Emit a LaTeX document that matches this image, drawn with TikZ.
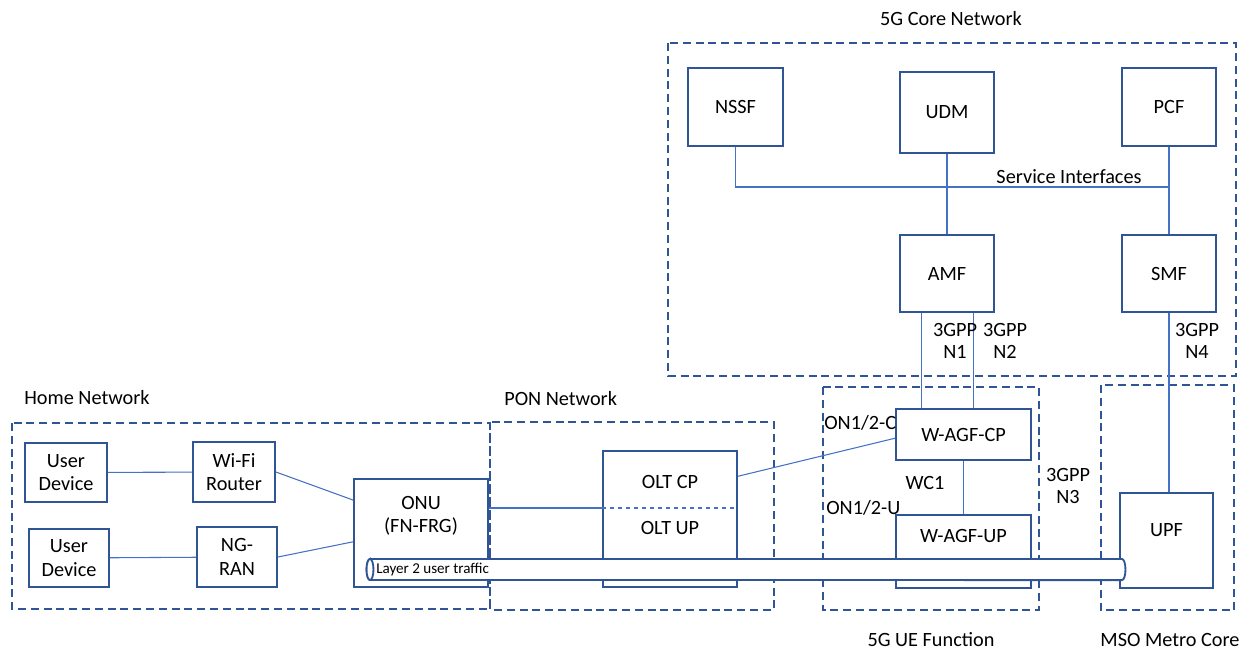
\documentclass[tikz,border=0pt]{standalone}
\usepackage{fontspec}
\setmainfont{Carlito}
\usetikzlibrary{calc}
\definecolor{boxc}{HTML}{2F5597}
\definecolor{linec}{HTML}{4472C4}
\definecolor{dashc}{HTML}{2F5597}
\begin{document}
\begin{tikzpicture}[x=0.75pt,y=-0.75pt,
  box/.style={draw=boxc,line width=1.4pt,fill=white,inner sep=0pt,align=center,
    font=\fontsize{15.2}{17.5}\selectfont},
  txt/.style={inner sep=0pt,align=center,font=\fontsize{15.2}{17}\selectfont},
  grp/.style={draw=dashc,line width=1.4pt,dash pattern=on 6pt off 3.6pt},
  conn/.style={draw=linec,line width=0.8pt},
  tube/.style={draw=boxc,line width=1.4pt,fill=white}]
\useasboundingbox (0,0) rectangle (1252,651);

% group frames
\draw[grp] (668,43) rectangle (1236,376);
\draw[grp] (12,423) rectangle (490,609);
\draw[grp] (490,422) rectangle (774,610);
\draw[grp] (823,387) rectangle (1039,610);
\draw[grp] (1101,385) rectangle (1234,610);

% group labels
\node[txt] (lcore) at (951,19) {5G Core Network};
\node[txt,anchor=west] (lhome) at (24,398) {Home Network};
\node[txt,anchor=west] (lpon) at (504,399) {PON Network};
\node[txt] (lue) at (931,640) {5G UE Function};
\node[txt] (lmso) at (1170,640) {MSO Metro Core};

% core nodes
\node[box,minimum width=71.25pt,minimum height=58.5pt] (nssf) at (735.5,107) {NSSF};
\node[box,minimum width=70.5pt,minimum height=60.75pt] (udm) at (947,112.5) {UDM};
\node[box,minimum width=70.5pt,minimum height=58.5pt] (pcf) at (1169,107) {PCF};
\node[box,minimum width=70.5pt,minimum height=57.75pt] (amf) at (947,273.5) {AMF};
\node[box,minimum width=70.5pt,minimum height=57.75pt] (smf) at (1169,273.5) {SMF};

% W-AGF
\node[box,minimum width=101.25pt,minimum height=38.25pt] (wcp) at (963.5,434.5) {W-AGF-CP};
\node[box,minimum width=101.25pt,minimum height=54.75pt] (wup) at (963.5,551.5) {};
\node[txt] (wuptxt) at (963.5,536) {W-AGF-UP};

% UPF
\node[box,minimum width=69.75pt,minimum height=71.25pt] (upf) at (1166.5,540.5) {};
\node[txt] (upftxt) at (1166.5,530) {UPF};

% home nodes
\node[box,minimum width=61.5pt,minimum height=44.25pt] (ud1) at (66,472.5) {User\\Device};
\node[box,minimum width=61.5pt,minimum height=45pt] (wifi) at (234,472) {Wi-Fi\\Router};
\node[box,minimum width=60pt,minimum height=43.5pt] (ud2) at (69,558) {User\\Device};
\node[box,minimum width=60pt,minimum height=45pt] (ngran) at (237,557) {NG-\\RAN};

% ONU
\node[box,minimum width=100.5pt,minimum height=81pt] (onu) at (421,533) {};
\node[txt] (onutxt) at (421,516) {ONU\\(FN-FRG)};

% OLT
\node[box,minimum width=100.5pt,minimum height=102pt] (olt) at (670,519) {};
\node[txt] (oltcp) at (670,482) {OLT CP};
\node[txt] (oltup) at (670,528) {OLT UP};
\coordinate (split) at (603,508);

% connectors
\coordinate (svc) at (1169,187);
\draw[conn] (nssf.south) -- (nssf.south |- svc) -- (svc);
\draw[conn] (pcf) -- (smf);
\draw[conn] (udm) -- (amf);
\draw[conn] ([xshift=-19pt]amf.south) -- ([xshift=-19pt]amf.south |- wcp.north);
\draw[conn] ([xshift=20pt]amf.south) -- ([xshift=20pt]amf.south |- wcp.north);
\draw[conn] (smf.south) -- (smf.south |- upf.north);
\draw[conn] (wcp) -- (wcp.south |- wup.north);
\draw[conn] (ud1) -- (wifi);
\draw[conn] (ud2) -- (ngran);
\draw[conn] (wifi.east) -- ($(onu.north west)!0.2!(onu.south west)$);
\draw[conn] (ngran.east) -- ($(onu.north west)!0.58!(onu.south west)$);
\draw[conn] (onu.east |- split) -- (olt.west |- split);
\draw[conn,dashed] (olt.west |- split) -- (olt.east |- split);
\draw[conn] ($(olt.north east)!0.19!(olt.south east)$) -- ($(wcp.north west)!0.57!(wcp.south west)$);

% interface labels
\node[txt,fill=white,inner sep=1pt] (svctxt) at (1069,177) {Service Interfaces};
\node[txt] (ln1) at (955,341) {3GPP\\N1};
\node[txt] (ln2) at (1005,341) {3GPP\\N2};
\node[txt] (ln4) at (1197,341) {3GPP\\N4};
\node[txt] (ln3) at (1068,486) {3GPP\\N3};
\node[txt,anchor=west] (lon1c) at (824,423) {ON1/2-C};
\node[txt] (lwc1) at (925,483) {WC1};
\node[txt,anchor=west] (lon1u) at (826,508) {ON1/2-U};

% tube
\draw[tube] (370,559) -- (1122,559) arc[start angle=90,end angle=-90,x radius=2.6pt,y radius=7.9pt] -- (370,580) arc[start angle=270,end angle=90,x radius=2.6pt,y radius=7.9pt] -- cycle;
\draw[tube] (370,569.5) ellipse[x radius=2.6pt,y radius=7.9pt];
\node[inner sep=0pt,anchor=west,font=\fontsize{11.3}{13}\selectfont] (l2) at (376,569.5) {Layer 2 user traffic};
\end{tikzpicture}
\end{document}
